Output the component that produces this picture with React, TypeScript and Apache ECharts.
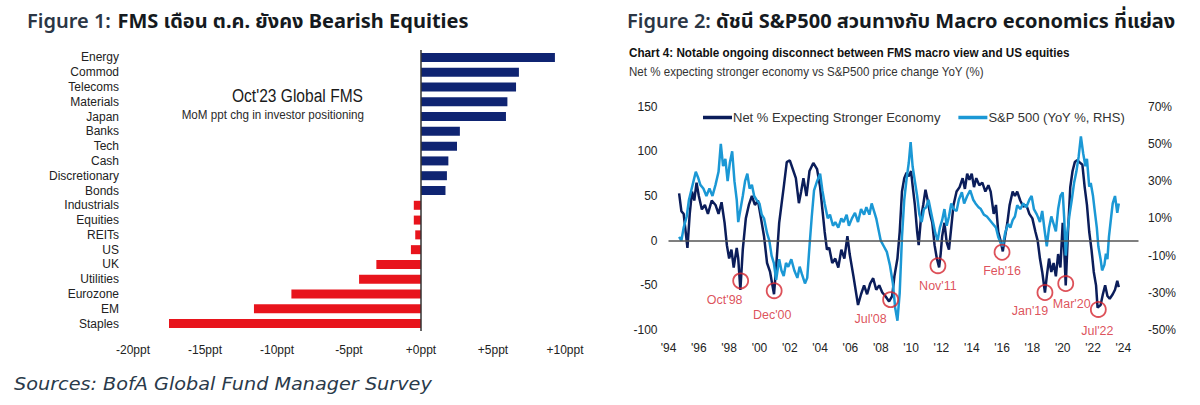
import React, { useEffect, useRef } from "react";
import * as echarts from "echarts";

// ---------- Figure 1: MoM change in investor positioning (ppt) ----------
const sectors = [
  "Energy", "Commod", "Telecoms", "Materials", "Japan", "Banks", "Tech", "Cash",
  "Discretionary", "Bonds", "Industrials", "Equities", "REITs", "US", "UK",
  "Utilities", "Eurozone", "EM", "Staples",
];
const positioningChange = [
  9.3, 6.8, 6.6, 6.0, 5.9, 2.7, 2.5, 1.9, 1.8, 1.7,
  -0.5, -0.5, -0.4, -0.7, -3.1, -4.3, -9.0, -11.6, -17.5,
];

// ---------- Figure 2: FMS macro view vs S&P 500 YoY ----------
const macroDates = [
  1994.7, 1994.85, 1995.0, 1995.1, 1995.25, 1995.4, 1995.55, 1995.7, 1995.85, 1996.0,
  1996.2, 1996.4, 1996.6, 1996.85, 1997.1, 1997.3, 1997.5, 1997.7, 1997.85, 1998.0,
  1998.15, 1998.3, 1998.5, 1998.6, 1998.74, 1998.9, 1999.1, 1999.3, 1999.5, 1999.7,
  1999.9, 2000.1, 2000.3, 2000.5, 2000.7, 2000.96, 2001.1, 2001.3, 2001.45, 2001.6,
  2001.8, 2002.0, 2002.2, 2002.4, 2002.6, 2002.75, 2002.9, 2003.1, 2003.3, 2003.55,
  2003.8, 2004.0, 2004.15, 2004.3, 2004.45, 2004.6, 2004.8, 2005.0, 2005.2, 2005.4,
  2005.6, 2005.8, 2005.95, 2006.2, 2006.5, 2006.7, 2006.9, 2007.1, 2007.3, 2007.5,
  2007.7, 2007.9, 2008.1, 2008.3, 2008.55, 2008.75, 2008.9, 2009.1, 2009.25, 2009.4,
  2009.55, 2009.7, 2009.85, 2010.0, 2010.1, 2010.25, 2010.4, 2010.5, 2010.65, 2010.8,
  2010.95, 2011.1, 2011.25, 2011.4, 2011.55, 2011.7, 2011.85, 2011.95, 2012.05, 2012.2,
  2012.35, 2012.5, 2012.65, 2012.8, 2013.0, 2013.2, 2013.4, 2013.55, 2013.7, 2013.85,
  2014.0, 2014.15, 2014.3, 2014.5, 2014.7, 2014.9, 2015.1, 2015.25, 2015.45, 2015.6,
  2015.75, 2015.9, 2016.05, 2016.2, 2016.35, 2016.5, 2016.7, 2016.85, 2017.0, 2017.2,
  2017.4, 2017.6, 2017.8, 2018.0, 2018.2, 2018.35, 2018.5, 2018.65, 2018.83, 2018.95,
  2019.1, 2019.25, 2019.4, 2019.55, 2019.7, 2019.85, 2020.0, 2020.1, 2020.2, 2020.35,
  2020.5, 2020.65, 2020.8, 2020.95, 2021.1, 2021.3, 2021.45, 2021.6, 2021.75, 2021.9,
  2022.05, 2022.2, 2022.3, 2022.5, 2022.65, 2022.8, 2022.95, 2023.1, 2023.3, 2023.45,
  2023.6, 2023.7,
];
const macroNet = [
  53, 33, 30, 15, -8, 30, 55, 45, 65, 50,
  35, 40, 30, 45, 40, 30, 43, 20, -5, -20,
  -10, -30, -8, -20, -55, -10, 25, 40, 50, 40,
  45, 25, 5, -25, -35, -60, -30, 20, 40, 60,
  88, 90, 80, 70, 42, 55, 70, 50, 78, 87,
  80, 60, 35, 10, -10, -8, -25, -20, -30, -10,
  -20, 5, -15, -40, -72, -60, -50, -60, -48, -42,
  -55, -50, -58, -62, -68, -62, -40, -20, 10, 55,
  70, 76, 72, 78, 62, 40, 10, -5, 25, 40,
  57, 45, 30, 20, -5, -20, -30, -15, 5, 20,
  -2, -10, 15, 40, 55, 60, 70, 58, 75, 68,
  75, 60, 70, 62, 65, 55, 62, 55, 30, 40,
  10, 0, -12, 5, 20, 40, 55, 50, 55, 45,
  38, 40, 30, 25, 10, 0, -20, -35, -58, -40,
  -20, -35, -25, -40, -15, -30, 20, -10, -50, 10,
  60, 78, 88, 90, 88, 85, 60, 40, 10, -10,
  -35, -50, -75, -72, -60, -50, -62, -65, -60, -55,
  -45, -52,
];

const spxDates = [
  1994.7, 1994.85, 1995.0, 1995.2, 1995.35, 1995.5, 1995.65, 1995.8, 1995.95, 1996.1,
  1996.3, 1996.5, 1996.7, 1996.9, 1997.1, 1997.3, 1997.45, 1997.6, 1997.75, 1997.9,
  1998.05, 1998.2, 1998.35, 1998.5, 1998.6, 1998.75, 1998.9, 1999.05, 1999.2, 1999.35,
  1999.5, 1999.65, 1999.8, 2000.0, 2000.15, 2000.3, 2000.5, 2000.65, 2000.8, 2000.95,
  2001.1, 2001.3, 2001.45, 2001.6, 2001.75, 2001.9, 2002.1, 2002.3, 2002.5, 2002.65,
  2002.8, 2003.0, 2003.15, 2003.3, 2003.45, 2003.6, 2003.8, 2004.0, 2004.15, 2004.3,
  2004.5, 2004.65, 2004.85, 2005.0, 2005.2, 2005.4, 2005.55, 2005.75, 2005.9, 2006.1,
  2006.3, 2006.5, 2006.7, 2006.9, 2007.05, 2007.25, 2007.4, 2007.55, 2007.7, 2007.85,
  2008.0, 2008.2, 2008.4, 2008.6, 2008.8, 2008.95, 2009.1, 2009.25, 2009.4, 2009.55,
  2009.7, 2009.85, 2009.97, 2010.1, 2010.25, 2010.4, 2010.55, 2010.7, 2010.85, 2011.0,
  2011.15, 2011.3, 2011.45, 2011.6, 2011.75, 2011.9, 2012.05, 2012.2, 2012.35, 2012.5,
  2012.65, 2012.8, 2013.0, 2013.15, 2013.35, 2013.5, 2013.7, 2013.9, 2014.1, 2014.25,
  2014.45, 2014.6, 2014.8, 2015.0, 2015.2, 2015.4, 2015.6, 2015.75, 2015.9, 2016.05,
  2016.2, 2016.4, 2016.55, 2016.7, 2016.85, 2017.0, 2017.2, 2017.4, 2017.6, 2017.8,
  2017.95, 2018.1, 2018.3, 2018.5, 2018.65, 2018.8, 2018.95, 2019.1, 2019.25, 2019.4,
  2019.55, 2019.7, 2019.85, 2020.0, 2020.1, 2020.2, 2020.3, 2020.45, 2020.6, 2020.75,
  2020.9, 2021.05, 2021.2, 2021.35, 2021.5, 2021.6, 2021.75, 2021.85, 2022.0, 2022.1,
  2022.25, 2022.35, 2022.5, 2022.6, 2022.75, 2022.85, 2022.95, 2023.05, 2023.2, 2023.3,
  2023.45, 2023.6, 2023.7,
];
const spxYoY = [
  0, -2, 5, 11, 20, 25, 30, 35, 32, 28,
  26, 22, 26, 22, 28, 35, 50, 38, 42, 30,
  40, 46, 30, 20, 8, 15, 22, 30, 34, 26,
  28, 22, 20, 18, 12, 10, 2, -2, -10, -14,
  -23, -12, -18, -21, -14, -16, -12, -18, -22, -16,
  -20, -25, -22, -5, 11, 25, 30, 34, 25, 18,
  10, 12, 6, 8, 5, 10, 8, 12, 6, 10,
  13, 8, 15, 12, 16, 12, 18, 14, 10, 4,
  -2, -5, -8, -15, -25, -38, -45, -30, 0, 20,
  31, 40, 51, 38, 30, 22, 12, 8, 15, 16,
  20, 14, 8, 2, -2, 5, 9, 15, 6, 11,
  18, 15, 14, 20, 24, 18, 22, 25, 20, 18,
  16, 15, 12, 11, 9, 7, 5, 0, -3, -5,
  2, 7, 5, 9, 11, 17, 15, 18, 16, 20,
  22, 15, 12, 8, 14, 4, -5, 5, 11, 7,
  3, 15, 22, 24, 10, -10, 2, 12, 20, 29,
  35, 43, 54, 45, 38, 42, 27, 29, 22, 15,
  5, -5, -12, -18, -15, -9, -12, 0, 11, 18,
  22, 13, 18,
];

// Circled troughs in the macro series
const troughLabels = ["Oct'98", "Dec'00", "Jul'08", "Nov'11", "Feb'16", "Jan'19", "Mar'20", "Jul'22"];
const troughDates = [1998.76, 2000.97, 2008.65, 2011.77, 2016.0, 2018.83, 2020.2, 2022.35];
const troughValues = [-45, -56, -66, -28, -13, -58, -48, -77];
// label placement relative to each circle (px)
const troughLabelOffsets = [[-16, 19], [-2, 24], [-20, 19], [0, 20], [0, 19], [-15, 19], [6, 20], [-1, 22]];

const NAVY_BAR = "#0f2472";
const RED_BAR = "#e8141c";
const NAVY_LINE = "#0b1d5a";
const BLUE_LINE = "#1b98d5";
const ANNOT_RED = "#d42530";
const SANS = '"Liberation Sans", Arial, sans-serif';
const TITLE_FONT = '"Noto Sans", "Noto Sans Thai", "DejaVu Sans", sans-serif';

export default function App() {
  const ref = useRef<HTMLDivElement>(null);

  useEffect(() => {
    document.body.style.margin = "0";
    if (!ref.current) return;
    const chart = echarts.init(ref.current, undefined, { renderer: "svg" });

    const macroData = macroDates.map((d, i) => [d, macroNet[i]]);
    const spxData = spxDates.map((d, i) => [d, spxYoY[i]]);
    const troughData = troughDates.map((d, i) => ({
      value: [d, troughValues[i]],
      name: troughLabels[i],
      label: { offset: troughLabelOffsets[i] },
    }));

    // narrow text, imitating a condensed face
    const condensed = (
      x: number, y: number, text: string, size: number, opts: Record<string, any> = {}, scaleX = 0.8,
    ) => ({
      type: "text",
      x,
      y,
      scaleX,
      style: {
        text,
        fontFamily: SANS,
        fontSize: size,
        fill: "#222222",
        verticalAlign: "middle",
        ...opts,
      },
    });

    const titleRich = {
      a: { fontFamily: TITLE_FONT, fontSize: 20, fontWeight: 600, fill: "#2b3645" },
      b: { fontFamily: TITLE_FONT, fontSize: 20, fontWeight: "bold", fill: "#151a20" },
    };

    chart.setOption({
      animation: false,
      backgroundColor: "#ffffff",
      textStyle: { fontFamily: SANS },
      graphic: [
        {
          type: "text",
          x: 27,
          y: 20,
          style: {
            text: "{a|Figure 1:}  {b|FMS เดือน ต.ค. ยังคง Bearish Equities}",
            verticalAlign: "middle",
            rich: titleRich,
          },
        },
        {
          type: "text",
          x: 627,
          y: 20,
          style: {
            text: "{a|Figure 2: }{b|ดัชนี S&P500 สวนทางกับ Macro economics ที่แย่ลง}",
            verticalAlign: "middle",
            rich: titleRich,
          },
        },
        condensed(363, 95, "Oct'23 Global FMS", 19, { align: "right", fill: "#1a1a1a" }, 0.82),
        condensed(364, 115, "MoM ppt chg in investor positioning", 12, { align: "right", fill: "#2a2a2a" }, 0.97),
        condensed(629, 53, "Chart 4: Notable ongoing disconnect between FMS macro view and US equities", 13,
          { fontWeight: "bold", fill: "#111111" }, 0.9),
        condensed(629, 72, "Net % expecting stronger economy vs S&P500 price change YoY (%)", 13,
          { fill: "#333333" }, 0.89),
        {
          type: "text",
          x: 14,
          y: 384,
          scaleX: 1.1,
          style: {
            text: "Sources: BofA Global Fund Manager Survey",
            fontFamily: '"DejaVu Sans", sans-serif',
            fontStyle: "italic",
            fontSize: 17.5,
            fill: "#2a3a4a",
            verticalAlign: "middle",
          },
        },
      ],
      legend: {
        data: ["Net % Expecting Stronger Economy", "S&P 500 (YoY %, RHS)"],
        left: 698,
        top: 106,
        icon: "rect",
        itemWidth: 29,
        itemHeight: 3.5,
        itemGap: 18,
        textStyle: { fontFamily: SANS, fontSize: 13, color: "#333333", padding: [0, 0, 0, -4] },
      },
      grid: [
        { left: 133, right: 635, top: 50, bottom: 74 },
        { left: 668.5, right: 61.5, top: 106.7, bottom: 75 },
      ],
      xAxis: [
        {
          type: "value",
          gridIndex: 0,
          min: -20,
          max: 10,
          interval: 5,
          axisLine: { show: false },
          axisTick: { show: false },
          splitLine: { show: false },
          axisLabel: {
            margin: 13,
            fontSize: 12,
            color: "#222222",
            fontFamily: SANS,
            formatter: (v: number) => (v >= 0 ? `+${v}ppt` : `${v}ppt`),
          },
        },
        {
          type: "value",
          gridIndex: 1,
          min: 1994,
          max: 2025,
          interval: 2,
          axisLine: { show: false },
          axisTick: { show: false },
          splitLine: { show: false },
          axisLabel: {
            margin: 12,
            fontSize: 12,
            color: "#222222",
            fontFamily: SANS,
            showMaxLabel: false,
            formatter: (v: number) => (v % 2 === 0 ? `'${String(v).slice(2)}` : ""),
          },
        },
      ],
      yAxis: [
        {
          type: "category",
          gridIndex: 0,
          data: sectors,
          inverse: true,
          axisLine: { show: false, onZero: false },
          axisTick: { show: false },
          splitLine: { show: false },
          axisLabel: { interval: 0, margin: 14, fontSize: 12, color: "#222222", fontFamily: SANS },
        },
        {
          type: "value",
          gridIndex: 1,
          min: -100,
          max: 150,
          interval: 50,
          position: "left",
          axisLine: { show: false },
          axisTick: { show: false },
          splitLine: { show: false },
          axisLabel: { margin: 11, fontSize: 12, color: "#222222", fontFamily: SANS },
        },
        {
          type: "value",
          gridIndex: 1,
          min: -50,
          max: 70,
          interval: 10,
          position: "right",
          axisLine: { show: false },
          axisTick: { show: false },
          splitLine: { show: false },
          axisLabel: {
            margin: 9.5,
            fontSize: 12,
            color: "#222222",
            fontFamily: SANS,
            formatter: (v: number) => ((v + 50) % 20 === 0 ? `${v}%` : ""),
          },
        },
      ],
      series: [
        {
          type: "bar",
          xAxisIndex: 0,
          yAxisIndex: 0,
          data: positioningChange,
          barWidth: 9,
          itemStyle: {
            color: (p: any) => (p.value >= 0 ? NAVY_BAR : RED_BAR),
          },
          markLine: {
            silent: true,
            symbol: "none",
            label: { show: false },
            lineStyle: { color: "#333333", width: 1.5, type: "solid" },
            data: [{ xAxis: 0 }],
          },
        },
        {
          name: "Net % Expecting Stronger Economy",
          type: "line",
          xAxisIndex: 1,
          yAxisIndex: 1,
          data: macroData,
          showSymbol: false,
          lineStyle: { color: NAVY_LINE, width: 2.5 },
          itemStyle: { color: NAVY_LINE },
          markLine: {
            silent: true,
            symbol: "none",
            label: { show: false },
            lineStyle: { color: "#555555", width: 1.5, type: "solid" },
            data: [{ yAxis: 0 }],
          },
        },
        {
          name: "S&P 500 (YoY %, RHS)",
          type: "line",
          xAxisIndex: 1,
          yAxisIndex: 2,
          data: spxData,
          showSymbol: false,
          lineStyle: { color: BLUE_LINE, width: 2.5 },
          itemStyle: { color: BLUE_LINE },
        },
        {
          type: "scatter",
          xAxisIndex: 1,
          yAxisIndex: 1,
          data: troughData,
          symbol: "circle",
          symbolSize: 15,
          z: 5,
          itemStyle: { color: "rgba(0,0,0,0)", borderColor: ANNOT_RED, borderWidth: 1.8 },
          label: {
            show: true,
            position: "inside",
            formatter: (p: any) => p.name,
            color: ANNOT_RED,
            fontSize: 12.5,
            fontFamily: SANS,
          },
        },
      ],
    });

    return () => chart.dispose();
  }, []);

  return <div ref={ref} style={{ width: 1200, height: 405 }} />;
}
